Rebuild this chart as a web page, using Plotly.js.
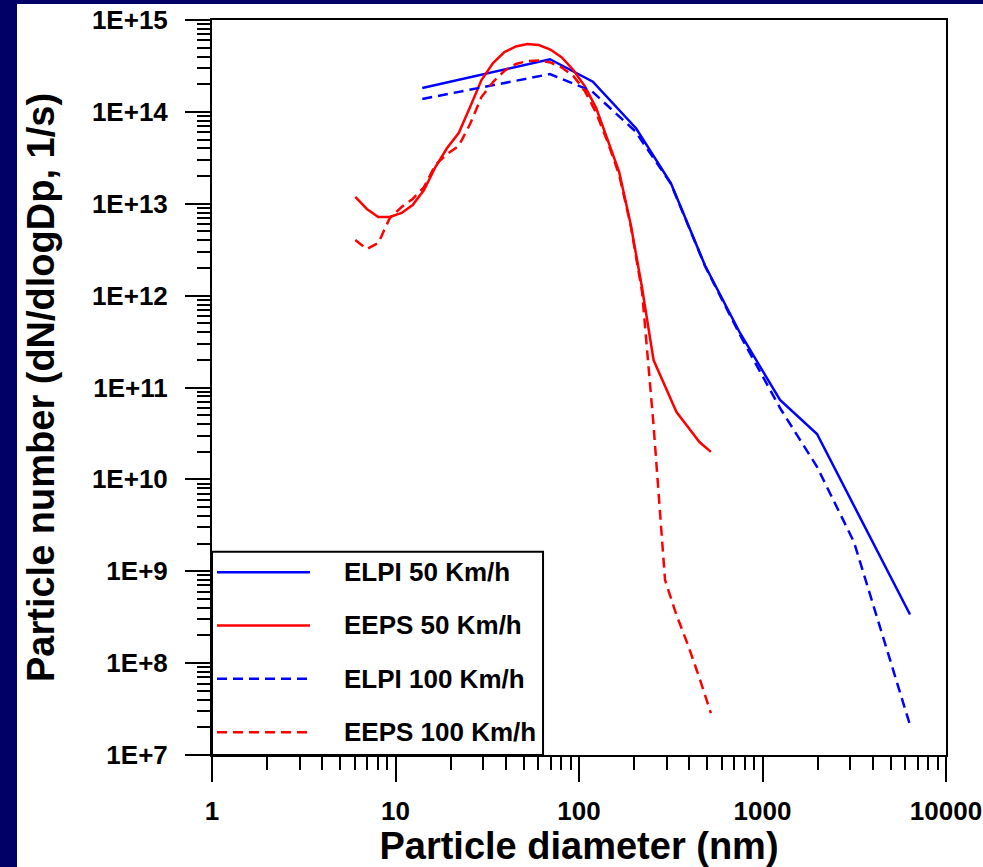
<!DOCTYPE html>
<html>
<head>
<meta charset="utf-8">
<script src="https://cdn.plot.ly/plotly-3.0.1.min.js"></script>
<style>
  html, body { margin: 0; padding: 0; background: #000066; width: 983px; height: 867px; overflow: hidden; }
  #chart { position: absolute; left: 17px; top: 4px; width: 966px; height: 863px; background: #ffffff; }
</style>
</head>
<body>
<div id="chart"></div>
<script>
// ---- data ----
const seriesNames = ["ELPI 50 Km/h", "EEPS 50 Km/h", "ELPI 100 Km/h", "EEPS 100 Km/h"];

const elpiX50 = [14.0, 69.5, 119, 205, 317, 486, 754, 1246, 1982, 6365];
const elpiY50 = [1.82e14, 3.74e14, 2.13e14, 6.59e13, 1.67e13, 2.13e12, 3.92e11, 7.31e10, 3.12e10, 3.38e8];

const elpiX100 = [14.0, 69.5, 117, 202, 317, 486, 754, 1246, 1982, 3151, 6365];
const elpiY100 = [1.38e14, 2.58e14, 1.69e14, 6.19e13, 1.65e13, 2.10e12, 3.73e11, 5.98e10, 1.37e10, 2.08e9, 2.12e7];

const eepsX = [6.04, 6.98, 8.06, 9.31, 10.8, 12.4, 14.3, 16.5, 19.1, 22.1, 25.5, 29.4, 34.0, 39.2, 45.3, 52.3,
               60.4, 69.8, 80.6, 93.1, 107.5, 124.1, 143.3, 165.5, 191.1, 220.7, 254.8, 294.3, 339.8, 392.4, 453.2, 523.3];
const eepsY50 = [1.185e13, 8.77e12, 7.17e12, 7.17e12, 7.93e12, 9.69e12, 1.41e13, 2.51e13, 4.04e13, 5.89e13, 1.13e14, 2.22e14,
                 3.40e14, 4.48e14, 5.15e14, 5.48e14, 5.34e14, 4.77e14, 3.91e14, 2.86e14, 1.91e14, 1.10e14, 4.94e13, 2.22e13,
                 6.02e12, 1.21e12, 1.99e11, 1.025e11, 5.41e10, 3.72e10, 2.55e10, 1.99e10];
const eepsY100 = [4.03e12, 3.22e12, 3.74e12, 7.00e12, 9.22e12, 1.127e13, 1.52e13, 2.64e13, 3.48e13, 4.25e13, 7.38e13, 1.45e14,
                  2.115e14, 2.79e14, 3.32e14, 3.58e14, 3.62e14, 3.45e14, 3.04e14, 2.46e14, 1.69e14, 9.72e13, 4.70e13, 2.06e13,
                  5.87e12, 1.095e12, 3.91e10, 8.03e8, 3.34e8, 1.575e8, 6.89e7, 2.86e7];

const xTickVals = [1, 10, 100, 1000, 10000];
const xTickText = ["1", "10", "100", "1000", "10000"];
const yTickVals = [1e7, 1e8, 1e9, 1e10, 1e11, 1e12, 1e13, 1e14, 1e15];
const yTickText = ["1E+7", "1E+8", "1E+9", "1E+10", "1E+11", "1E+12", "1E+13", "1E+14", "1E+15"];

const xTitle = "Particle diameter (nm)";
const yTitle = "Particle number (dN/dlogDp, 1/s)";

// ---- styling ----
const BLUE = "#0000ff", RED = "#ff0000";
const DASH = "10px,6px";
const FONT = "Liberation Sans, Arial, Helvetica, sans-serif";

function minorVals(lo, hi) {
  const v = [];
  for (let d = lo; d < hi; d++) for (let k = 2; k <= 9; k++) v.push(k * Math.pow(10, d));
  return v;
}

const traces = [
  { x: elpiX50, y: elpiY50, name: seriesNames[0], mode: "lines", line: { color: BLUE, width: 2.5 } },
  { x: eepsX, y: eepsY50, name: seriesNames[1], mode: "lines", line: { color: RED, width: 2.5 } },
  { x: elpiX100, y: elpiY100, name: seriesNames[2], mode: "lines", line: { color: BLUE, width: 2.5, dash: DASH } },
  { x: eepsX, y: eepsY100, name: seriesNames[3], mode: "lines", line: { color: RED, width: 2.5, dash: DASH } }
];
traces.forEach(t => { t.showlegend = false; t.hoverinfo = "x+y+name"; });

// custom legend (box, line samples, labels) in paper coordinates
const legRows = [0.2487, 0.1762, 0.1036, 0.0310];
const legStyles = [
  { color: BLUE, dash: "solid" }, { color: RED, dash: "solid" },
  { color: BLUE, dash: DASH }, { color: RED, dash: DASH }
];
const shapes = [{
  type: "rect", xref: "paper", yref: "paper", x0: 0, x1: 0.451, y0: 0, y1: 0.2766,
  line: { color: "black", width: 2 }, fillcolor: "white", layer: "above"
}];
const annotations = [];
legRows.forEach((yy, i) => {
  shapes.push({
    type: "line", xref: "paper", yref: "paper", x0: 0.0068, x1: 0.1335, y0: yy, y1: yy,
    line: { color: legStyles[i].color, width: 2.5, dash: legStyles[i].dash }, layer: "above"
  });
  annotations.push({
    xref: "paper", yref: "paper", x: 0.1767, y: yy, xanchor: "left", yanchor: "middle",
    text: seriesNames[i], showarrow: false,
    font: { family: FONT, size: 26, weight: 700, color: "black" }
  });
});

const layout = {
  width: 966, height: 863,
  margin: { l: 195, r: 37, t: 16, b: 112, pad: 0 },
  paper_bgcolor: "white", plot_bgcolor: "white",
  font: { family: FONT, size: 26, color: "black", weight: 700 },
  showlegend: false,
  xaxis: {
    type: "log", range: [0, 4], autorange: false,
    showgrid: false, zeroline: false,
    showline: true, linecolor: "black", linewidth: 2, mirror: true,
    ticks: "outside", ticklen: 25, tickwidth: 2, tickcolor: "black",
    tickmode: "array", tickvals: xTickVals, ticktext: xTickText,
    tickfont: { family: FONT, size: 26, weight: 700, color: "black" },
    ticklabelstandoff: 7,
    minor: { tickmode: "array", tickvals: minorVals(0, 4), ticks: "outside", ticklen: 13, tickwidth: 2, tickcolor: "black", showgrid: false },
    title: { text: xTitle, standoff: 13, font: { family: FONT, size: 38, weight: 700, color: "black" } }
  },
  yaxis: {
    type: "log", range: [7, 15], autorange: false,
    showgrid: false, zeroline: false,
    showline: true, linecolor: "black", linewidth: 2, mirror: true,
    ticks: "outside", ticklen: 25, tickwidth: 2, tickcolor: "black",
    tickmode: "array", tickvals: yTickVals, ticktext: yTickText,
    tickfont: { family: FONT, size: 26, weight: 700, color: "black" },
    ticklabelstandoff: 12,
    minor: { tickmode: "array", tickvals: minorVals(7, 15), ticks: "outside", ticklen: 13, tickwidth: 2, tickcolor: "black", showgrid: false },
    title: { text: yTitle, standoff: 26, font: { family: FONT, size: 38, weight: 700, color: "black" } }
  },
  shapes: shapes,
  annotations: annotations
};

Plotly.newPlot("chart", traces, layout, { displayModeBar: false, staticPlot: true });
</script>
</body>
</html>
